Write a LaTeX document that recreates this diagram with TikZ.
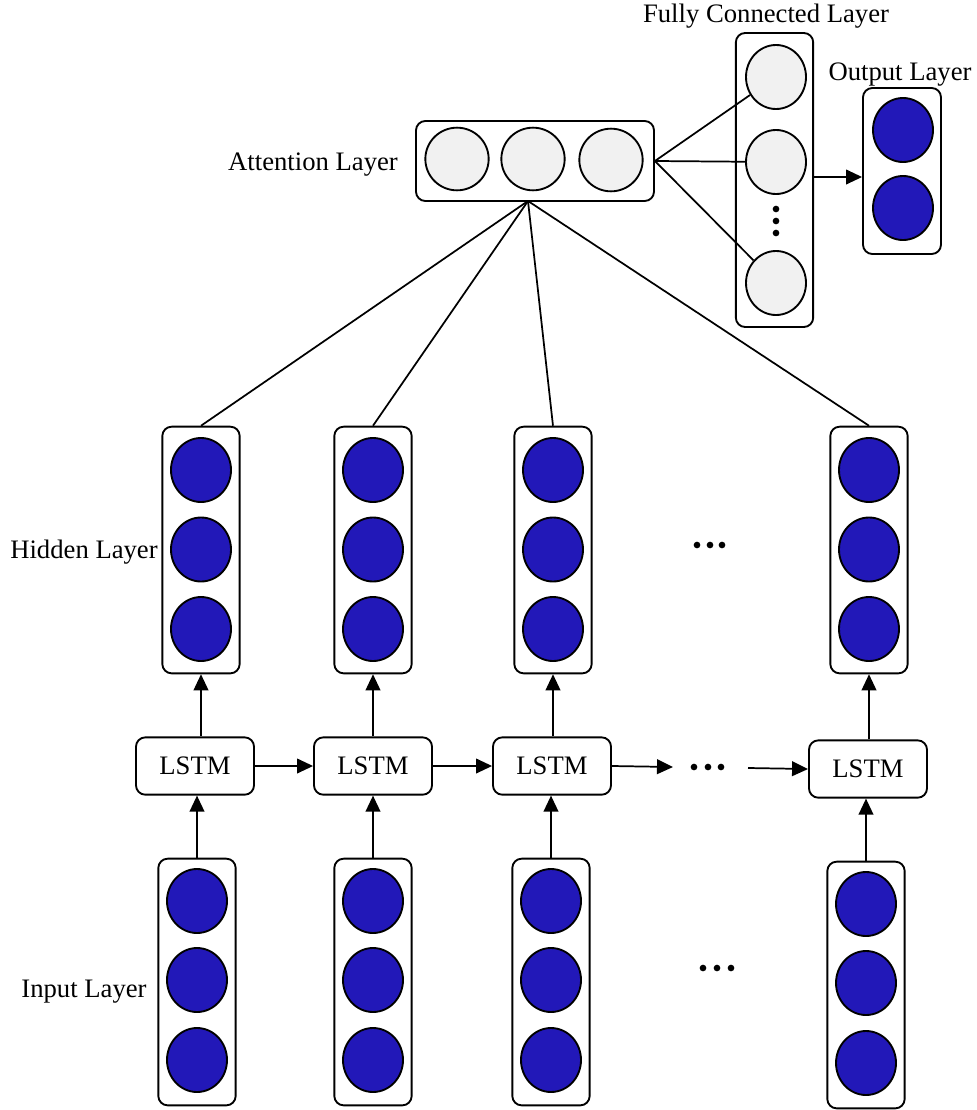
\documentclass[tikz,border=0pt]{standalone}
\usepackage{fontspec}
\setmainfont{Liberation Serif}
\usetikzlibrary{arrows.meta,shapes.geometric}
\definecolor{nblue}{RGB}{34,24,184}
\definecolor{ngray}{RGB}{241,241,241}
\begin{document}
\begin{tikzpicture}[x=0.75pt,y=-0.75pt,
  box/.style={draw,rounded corners=7pt,line width=1.4pt,inner sep=0pt},
  stack/.style={box,minimum width=58pt,minimum height=185pt},
  neuron/.style={ellipse,draw,line width=1.4pt,fill=nblue,minimum width=45pt,minimum height=48pt,inner sep=0pt},
  gneuron/.style={neuron,fill=ngray},
  lstm/.style={box,minimum width=88.5pt,minimum height=43pt,font=\fontsize{20}{24}\selectfont},
  lab/.style={font=\fontsize{20}{24}\selectfont,inner sep=0pt,anchor=base},
  conn/.style={line width=1.3pt},
  arr/.style={line width=1.3pt,-{Triangle[length=12pt,width=11pt]}},
  dot/.style={circle,fill=black,inner sep=0pt,minimum size=5pt},
]
\useasboundingbox (0,0) rectangle (977,1110);

% columns: index / hidden x / lstm x / lstm y / input x / input y
\foreach \i/\hx/\lx/\ly/\ix/\iy in {1/201/195/766/197/982, 2/373/373/766/373/982, 3/553/552/766/551/982, 4/869/868/769/866/985}{
  % hidden stack
  \node[stack] (h\i) at (\hx,550) {};
  \node[neuron] (h\i a) at (\hx,470) {};
  \node[neuron] (h\i b) at (\hx,549.5) {};
  \node[neuron] (h\i c) at (\hx,629) {};
  % lstm
  \node[lstm] (l\i) at (\lx,\ly) {LSTM};
  % input stack
  \node[stack] (in\i) at (\ix,\iy) {};
  \node[neuron] (in\i a) at (\ix,\iy-81) {};
  \node[neuron] (in\i b) at (\ix,\iy-2) {};
  \node[neuron] (in\i c) at (\ix,\iy+78) {};
  % arrows
  \draw[arr] (in\i.north) -- (in\i.north |- l\i.south);
  \draw[arr] (h\i.south |- l\i.north) -- (h\i.south);
}

% attention layer
\node[box,minimum width=178.5pt,minimum height=60pt] (att) at (535,161) {};
\node[gneuron,minimum width=47.5pt,minimum height=47pt] (att1) at (457,159) {};
\node[gneuron,minimum width=47.5pt,minimum height=47pt] (att2) at (533,159) {};
\node[gneuron,minimum width=47.5pt,minimum height=47pt] (att3) at (611,160) {};
\coordinate (attb) at (528,201);
\foreach \i in {1,2,3,4}{ \draw[conn] (attb) -- (h\i.north); }

% fully connected layer
\node[box,minimum width=58pt,minimum height=220.5pt] (fc) at (774.5,180) {};
\node[gneuron] (fc1) at (776,77) {};
\node[gneuron] (fc2) at (776,162) {};
\node[gneuron] (fc3) at (776,283) {};
\node[dot] (fcd1) at (776,209) {};
\node[dot] (fcd2) at (776,221) {};
\node[dot] (fcd3) at (776,233) {};
\foreach \j in {1,2,3}{ \draw[conn] (att.east) -- (fc\j); }

% output layer
\node[box,minimum width=58.5pt,minimum height=124.5pt] (out) at (902,171) {};
\node[neuron] (out1) at (903,130) {};
\node[neuron] (out2) at (903,208) {};
\draw[arr] (fc.east |- 0,177) coordinate (fce) -- (fce -| out.west);

% LSTM chain
\draw[arr] (l1.east) -- (l2.west);
\draw[arr] (l2.east) -- (l3.west);
\coordinate (ca) at (673,767);
\coordinate (cb) at (748,768);
\draw[arr] (l3.east) -- (ca);
\draw[arr] (cb) -- (l4.west);
\node[dot] (ld1) at (694,767) {};
\node[dot] (ld2) at (708,767) {};
\node[dot] (ld3) at (721,767) {};

% ellipsis dots
\node[dot] (hd1) at (697,545) {};
\node[dot] (hd2) at (710,545) {};
\node[dot] (hd3) at (722,545) {};
\node[dot] (id1) at (703,968) {};
\node[dot] (id2) at (717,968) {};
\node[dot] (id3) at (731,968) {};

% labels
\node[lab] (tfc) at (766,22) {Fully Connected Layer};
\node[lab] (tout) at (900,80) {Output Layer};
\node[lab] (tatt) at (313,170) {Attention Layer};
\node[lab] (thid) at (84,558) {Hidden Layer};
\node[lab] (tin) at (84,997) {Input Layer};
\end{tikzpicture}
\end{document}
